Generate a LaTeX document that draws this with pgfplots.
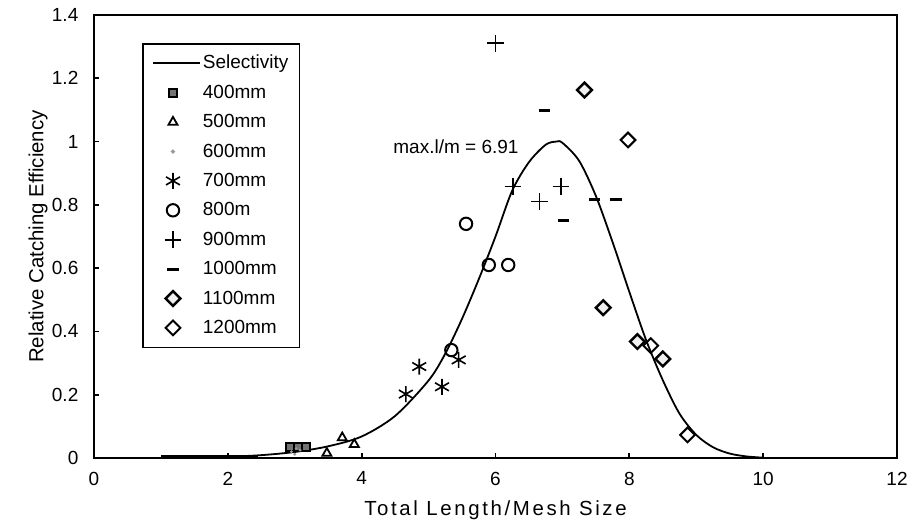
\documentclass[border=0pt]{standalone}
\usepackage{fontspec}
\setmainfont{Liberation Sans}
\usepackage{pgfplots}
\pgfplotsset{compat=1.18}

\begin{document}
\begin{tikzpicture}
\begin{axis}[
    scale only axis,
    width=401.5pt,
    height=221.5pt,
    xmin=0, xmax=12,
    ymin=0, ymax=1.4,
    xtick={0,2,4,6,8,10,12},
    ytick={0,0.2,0.4,0.6,0.8,1,1.2,1.4},
    /pgf/number format/assume math mode=true,
    tick align=inside,
    xtick pos=bottom,
    ytick pos=left,
    major tick length=2.5pt,
    tick style={black, line width=0.9pt},
    axis line style={line width=1.3pt},
    ticklabel style={font=\fontsize{9.5}{11}\selectfont},
    yticklabel style={xshift=-4.3pt},
    xticklabel style={yshift=-3.4pt},
    xlabel={\addfontfeatures{LetterSpace=13}Total Length/Mesh Size},
    ylabel={Relative Catching Efficiency},
    xlabel style={at={(axis description cs:0.5,-0.117)}, anchor=center, font=\fontsize{10.2}{12}\selectfont},
    ylabel style={at={(axis description cs:-0.0697,0.5)}, anchor=center, font=\fontsize{10.2}{12}\selectfont},
    clip=false,
    legend style={
        at={(rel axis cs:0.06,0.937)},
        anchor=north west,
        draw=black,
        line width=0.9pt,
        font=\fontsize{9.5}{11}\selectfont,
        inner xsep=4.5pt,
        inner ysep=4.5pt,
        row sep=4.2pt,
        nodes={inner sep=1pt, text height=7pt, text depth=1.5pt},
        cells={anchor=west},
    },
    legend image code/.code={
        \path[draw=none, fill=none] (0pt,0pt) -- (23.5pt,0pt);
        \draw[#1] plot coordinates {(10pt,0pt)};
    },
]

% fitted selectivity curve
\addplot[black, line width=0.9pt, smooth, mark=none,
    legend image code/.code={\draw[black, line width=0.9pt] (0pt,0pt) -- (23.5pt,0pt);}]
coordinates {
    (1,0.001) (1.5,0.002) (2,0.004) (2.5,0.009) (3,0.019) (3.5,0.037)
    (4,0.068) (4.5,0.133) (5,0.245) (5.25,0.33) (5.5,0.44) (5.75,0.565)
    (6,0.70) (6.25,0.845) (6.5,0.935) (6.75,0.99) (6.91,1.0) (7,0.996)
    (7.25,0.939) (7.5,0.828) (7.75,0.682) (8,0.525) (8.25,0.373)
    (8.5,0.246) (8.75,0.14) (9,0.073) (9.25,0.034) (9.5,0.014)
    (9.75,0.005) (10,0.001)
};
\addlegendentry{Selectivity}

\addplot[only marks, mark=square*, mark size=2pt,
    mark options={draw=black, fill=black!55, line width=0.8pt}]
coordinates {(2.93,0.035) (3.05,0.035) (3.17,0.035)};
\addlegendentry{400mm}

\addplot[only marks, mark=triangle, mark size=2.6pt,
    mark options={draw=black, line width=0.9pt}]
coordinates {(3.48,0.015) (3.71,0.064) (3.89,0.043)};
\addlegendentry{500mm}

\addplot[only marks, mark=*, mark size=0.5pt,
    mark options={draw=black!40, fill=black!40}]
coordinates {(2.95,0.02) (3.0,0.012) (3.08,0.025) (3.02,0.03)};
\addlegendentry{600mm}

\addplot[only marks, mark=asterisk, mark size=4pt,
    mark options={draw=black, line width=0.8pt}]
coordinates {(4.66,0.202) (4.86,0.289) (5.20,0.225) (5.45,0.310)};
\addlegendentry{700mm}

\addplot[only marks, mark=o, mark size=3.1pt,
    mark options={draw=black, line width=1pt}]
coordinates {(5.34,0.341) (5.56,0.740) (5.90,0.610) (6.19,0.610)};
\addlegendentry{800m}

\addplot[only marks, mark=+, mark size=4.2pt,
    mark options={draw=black, line width=0.8pt}]
coordinates {(6.00,1.311) (6.26,0.858) (6.66,0.810) (6.98,0.858)};
\addlegendentry{900mm}

\addplot[only marks, mark=-, mark size=2.8pt,
    mark options={draw=black, line width=1.6pt}]
coordinates {(6.73,1.098) (7.02,0.750) (7.48,0.818) (7.80,0.818)};
\addlegendentry{1000mm}

\addplot[only marks, mark=square*, mark size=2.6pt,
    mark options={rotate=45, draw=black, fill=black!6, line width=1.2pt}]
coordinates {(7.33,1.163) (7.61,0.475) (8.12,0.368) (8.50,0.313)};
\addlegendentry{1100mm}

\addplot[only marks, mark=square, mark size=2.6pt,
    mark options={rotate=45, draw=black, line width=1pt}]
coordinates {(7.98,1.005) (8.32,0.355) (8.87,0.073)};
\addlegendentry{1200mm}

% thick run of the curve along the axis
\addplot[black, line width=1.4pt, forget plot] coordinates {(1,0.004) (2.45,0.004)};

\node[anchor=east, font=\fontsize{9.5}{11}\selectfont] at (axis cs:6.45,0.985) {max.l/m = 6.91};
\end{axis}
\pgfresetboundingbox
\path ([shift={(-47pt,-35pt)}]current axis.south west) rectangle ([shift={(9pt,7.5pt)}]current axis.north east);
\end{tikzpicture}
\end{document}
